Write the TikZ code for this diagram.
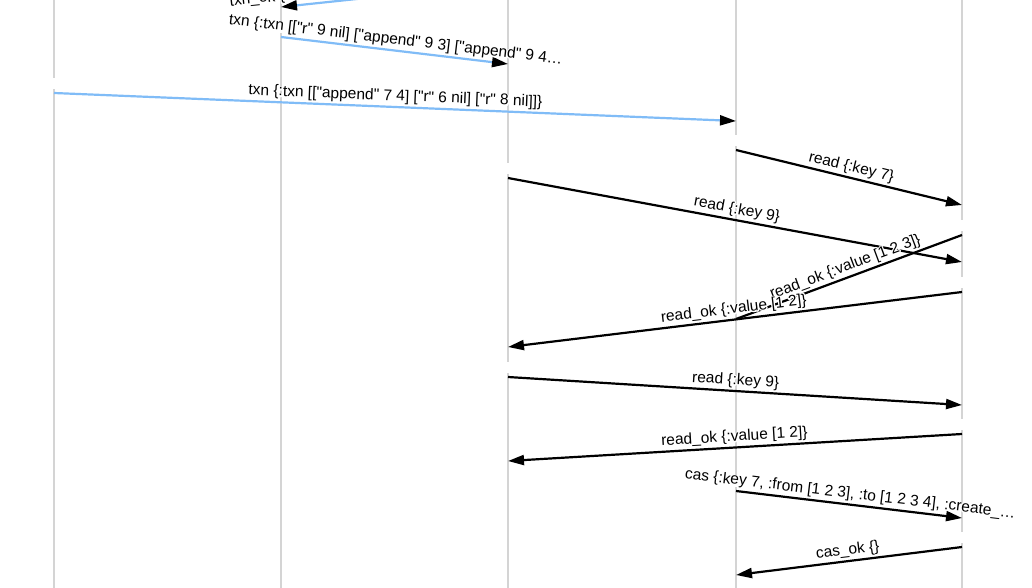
\documentclass[tikz,border=0pt]{standalone}
\usepackage{fontspec}
\setmainfont{Liberation Sans}[Ligatures=TeXOff]
\usetikzlibrary{arrows.meta}
\definecolor{lifegray}{HTML}{D4D4D4}
\definecolor{txnblue}{HTML}{80BCF7}
\newcommand\halotext[1]{\leavevmode\rlap{\special{pdf:literal direct 1 Tr 2.6 w 1 J 1 j 1 1 1 RG}#1\special{pdf:literal direct 0 Tr 0 0 0 RG}}#1}
\begin{document}
\begin{tikzpicture}[x=1pt,y=-1pt,
  life/.style={lifegray, line width=1.5pt},
  msg/.style={line width=2.2pt, -{Triangle[length=16pt,width=10pt,color=black]}},
  txnmsg/.style={msg, txnblue},
  lbl/.style={midway, above=1pt, sloped, inner sep=1pt, text=black,
    font=\fontsize{15.5}{18}\selectfont}]
\useasboundingbox[fill=white] (0,0) rectangle (1032,588);

\foreach \x in {54,281,508,736,962}
  \draw[life] (\x,0) -- (\x,588);

\coordinate (s1) at (508,-17);  \coordinate (r1) at (281,7);
\coordinate (s2) at (281,37);   \coordinate (r2) at (508,64);
\coordinate (s3) at (54,93);    \coordinate (r3) at (736,121);
\coordinate (s4) at (736,150);  \coordinate (r4) at (962,205);
\coordinate (s5) at (508,178);  \coordinate (r5) at (962,262);
\coordinate (s6) at (962,235);  \coordinate (r6) at (736,319);
\coordinate (s7) at (962,292);  \coordinate (r7) at (508,347);
\coordinate (s8) at (508,377);  \coordinate (r8) at (962,405);
\coordinate (s9) at (962,434);  \coordinate (r9) at (508,461);
\coordinate (s10) at (736,491); \coordinate (r10) at (962,518);
\coordinate (s11) at (962,547); \coordinate (r11) at (736,575);

\foreach \s in {s2,s3,s4,s5,s6,s7,s8,s9,s10,s11}
  \draw[white, line width=3pt] ([yshift=4pt]\s) -- ([yshift=15pt]\s);

\draw[txnmsg] (s1) -- (r1) node[lbl, pos=1.1] {\halotext{txn\_ok \{}};
\draw[txnmsg] (s2) -- (r2) node[lbl] {\halotext{txn \{:txn [["r" 9 nil] ["append" 9 3] ["append" 9 4…}};
\draw[txnmsg] (s3) -- (r3) node[lbl] {\halotext{txn \{:txn [["append" 7 4] ["r" 6 nil] ["r" 8 nil]]\}}};
\draw[msg] (s4) -- (r4) node[lbl] {\halotext{read \{:key 7\}}};
\draw[msg] (s5) -- (r5) node[lbl] {\halotext{read \{:key 9\}}};
\draw[msg, -] (s6) -- (r6) node[lbl] {\halotext{read\_ok \{:value [1 2 3]\}}};
\draw[msg] (s7) -- (r7) node[lbl] {\halotext{read\_ok \{:value [1 2]\}}};
\draw[msg] (s8) -- (r8) node[lbl] {\halotext{read \{:key 9\}}};
\draw[msg] (s9) -- (r9) node[lbl] {\halotext{read\_ok \{:value [1 2]\}}};
\draw[msg] (s10) -- (r10) node[lbl] {\halotext{cas \{:key 7, :from [1 2 3], :to [1 2 3 4], :create\_…}};
\draw[msg] (s11) -- (r11) node[lbl] {\halotext{cas\_ok \{\}}};
\end{tikzpicture}
\end{document}
